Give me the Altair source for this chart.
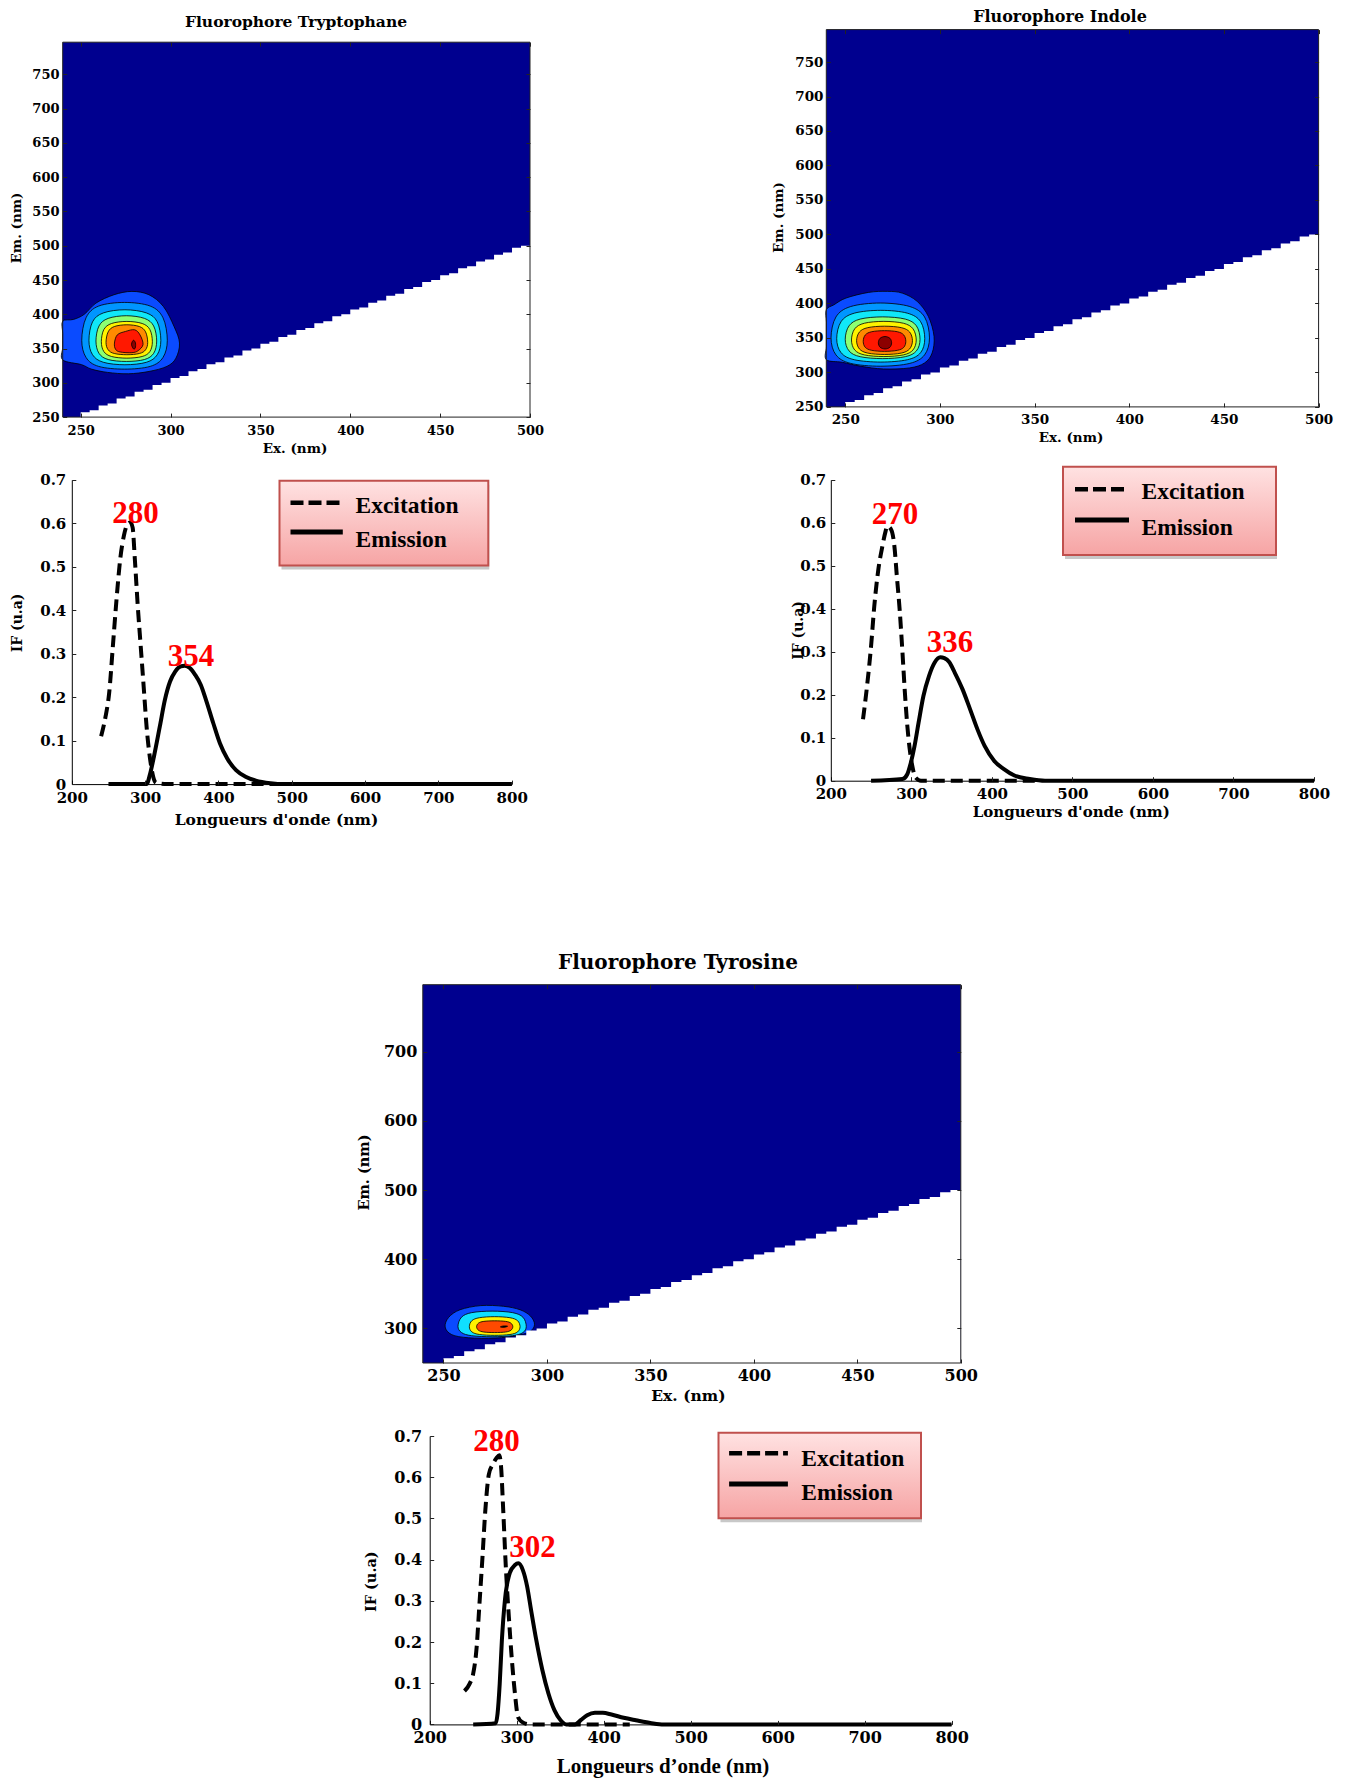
import altair as alt
import pandas as pd

# ---------------------------------------------------------------- data
# Spectra: excitation (dashed) and emission (solid), wavelength (nm) -> IF (u.a)
TRP_EX_WL = [240, 246, 251, 256, 261, 266, 271, 276, 280, 283, 286, 290, 294, 298, 302, 307, 311, 315, 330, 800]
TRP_EX_IF = [0.11, 0.155, 0.21, 0.317, 0.425, 0.517, 0.571, 0.598, 0.602, 0.59, 0.517, 0.409, 0.317, 0.225, 0.132, 0.055, 0.017, 0.003, 0, 0]
TRP_EM_WL = [250, 302, 307, 312, 320, 327, 334, 341, 349, 354, 361, 368, 376, 383, 393, 402, 412, 424, 437, 451, 471, 490, 800]
TRP_EM_IF = [0, 0, 0.025, 0.063, 0.132, 0.194, 0.236, 0.259, 0.271, 0.272, 0.267, 0.252, 0.228, 0.194, 0.14, 0.094, 0.059, 0.032, 0.017, 0.008, 0.002, 0, 0]

IND_EX_WL = [240, 245, 250, 254, 259, 264, 268, 270, 275, 279, 282, 285.5, 289, 292, 295, 298.5, 302, 305, 312, 460]
IND_EX_IF = [0.143, 0.22, 0.313, 0.406, 0.491, 0.545, 0.58, 0.592, 0.584, 0.545, 0.476, 0.398, 0.298, 0.205, 0.128, 0.066, 0.027, 0.008, 0, 0]
IND_EM_WL = [250, 289, 295, 299, 304, 309, 315, 322, 329, 336, 341, 347, 354, 363.5, 373, 382, 391, 403, 415, 428, 447, 466, 800]
IND_EM_IF = [0, 0.004, 0.015, 0.039, 0.081, 0.135, 0.197, 0.244, 0.275, 0.287, 0.285, 0.276, 0.251, 0.213, 0.166, 0.12, 0.081, 0.046, 0.027, 0.012, 0.004, 0, 0]

TYR_EX_WL = [240, 246, 250, 254, 257, 260.5, 264, 268, 272.5, 277, 280, 282, 284.5, 287.5, 291, 294.5, 298, 301.5, 306, 315, 430]
TYR_EX_IF = [0.081, 0.099, 0.123, 0.188, 0.286, 0.4, 0.521, 0.607, 0.631, 0.647, 0.653, 0.627, 0.521, 0.383, 0.261, 0.156, 0.075, 0.018, 0.006, 0, 0]
TYR_EM_WL = [250, 276, 278, 280.5, 283, 286.5, 292, 298, 302, 307, 312, 316.5, 322.5, 329.5, 336.5, 343.5, 350.5, 357, 367, 374, 381, 390, 399, 409, 423, 437, 455, 469, 800]
TYR_EM_IF = [0, 0.003, 0.026, 0.099, 0.205, 0.302, 0.367, 0.387, 0.391, 0.375, 0.335, 0.278, 0.205, 0.132, 0.075, 0.034, 0.01, 0, 0, 0.011, 0.022, 0.028, 0.028, 0.024, 0.016, 0.01, 0.003, 0, 0]

TRP_PEAKS = ["280", "354"]
IND_PEAKS = ["270", "336"]
TYR_PEAKS = ["280", "302"]

# EEM contour outlines, (Ex nm, Em nm), outermost first
TRP_L1 = [(240, 390), (240, 372), (240, 352), (240, 333.5), (250.5, 326.5), (256, 320), (265, 315.2), (276.5, 313.2),
          (288, 316.6), (298, 324), (303, 336), (305, 358), (302, 382), (296, 411.5), (288, 428.5), (278.5, 433.4),
          (268.5, 428.5), (258.5, 416.3), (252, 400), (246, 392.5)]
TRP_L2 = [(250.6, 362), (253, 395), (260, 412), (274.4, 417.3), (288.7, 412), (295.8, 395), (298.2, 362), (295.8, 337),
          (288.7, 324), (274.4, 320), (260, 324), (253, 337)]
TRP_L3 = [(254.6, 362), (256.6, 389), (262.6, 402), (274.6, 406.6), (286.6, 402), (292.6, 389), (294.6, 362), (292.6, 341),
          (286.6, 330), (274.6, 326.4), (262.6, 330), (256.6, 341)]
TRP_L4 = [(258.5, 361), (260.2, 383), (265.3, 394), (275.4, 397.9), (285.5, 394), (290.6, 383), (292.3, 361), (290.6, 343),
          (285.5, 334), (275.4, 331.2), (265.3, 334), (260.2, 343)]
TRP_L5 = [(261.5, 360), (262.9, 377.8), (267.2, 386.6), (275.7, 389.6), (284.2, 386.6), (288.5, 377.8), (289.9, 360),
          (288.5, 345.6), (284.2, 338.4), (275.7, 336), (267.2, 338.4), (262.9, 345.6)]
TRP_L6 = [(264.1, 359), (265.3, 374.4), (268.7, 382.1), (275.7, 384.7), (282.7, 382.1), (286.1, 374.4), (287.3, 359),
          (286.1, 348.2), (282.7, 342.8), (275.7, 341), (268.7, 342.8), (265.3, 348.2)]
TRP_L7 = [(268.8, 358), (270.4, 370), (275, 375), (280, 377.4), (283, 370), (284.7, 356), (282, 347), (278.5, 344),
          (272, 345), (269.4, 349)]
TRP_L8 = [(278.3, 355.5), (278.8, 360.5), (279.6, 362), (280.5, 358), (280.4, 351), (279.4, 349.5)]

IND_L1 = [(240, 391), (240, 373), (240, 355), (240, 337), (240, 318.5), (248.4, 314.7), (258.3, 308.9), (270.2, 305),
          (284, 306.5), (291.9, 313.7), (295.9, 328.2), (296.9, 352.3), (293.9, 381.3), (288, 403), (280.1, 415),
          (272.2, 417.5), (262.3, 416), (250.4, 407.8), (244, 398)]
IND_L2 = [(242.5, 350), (245.1, 380.4), (252.9, 395.5), (268.5, 400.6), (284.1, 395.5), (291.9, 380.4), (294.5, 350),
          (291.9, 325.4), (284.1, 313.1), (268.5, 309), (252.9, 313.1), (245.1, 325.4)]
IND_L3 = [(245.5, 349), (247.8, 373.6), (254.8, 385.9), (268.8, 390), (282.8, 385.9), (289.8, 373.6), (292, 349),
          (289.8, 328.6), (282.8, 318.4), (268.8, 315), (254.8, 318.4), (247.8, 328.6)]
IND_L4 = [(250, 348), (252, 367.5), (257.9, 377.3), (269.8, 380.5), (281.7, 377.3), (287.6, 367.5), (289.5, 348),
          (287.6, 331.2), (281.7, 322.8), (269.8, 320), (257.9, 322.8), (252, 331.2)]
IND_L5 = [(253.3, 347), (255, 363.2), (260.1, 371.3), (270.4, 374), (280.7, 371.3), (285.8, 363.2), (287.5, 347),
          (285.8, 332.6), (280.7, 325.4), (270.4, 323), (260.1, 325.4), (255, 332.6)]
IND_L6 = [(256, 346), (257.5, 358.6), (261.9, 364.9), (270.75, 367), (279.6, 364.9), (284, 358.6), (285.5, 346),
          (284, 334), (279.6, 328), (270.75, 326), (261.9, 328), (257.5, 334)]
IND_L7 = [(259.5, 345), (260.6, 354.3), (264, 359), (270.75, 360.5), (277.5, 359), (280.9, 354.3), (282, 345),
          (280.9, 336.3), (277.5, 332), (270.75, 330.5), (264, 332), (260.6, 336.3)]
IND_L8 = [(267.5, 343), (268.4, 349.5), (271, 352), (273.6, 349.5), (274.5, 343), (273.6, 336.5), (271, 334), (268.4, 336.5)]

TYR_L1 = [(250.8, 302), (252.5, 316), (258, 327), (268, 333), (279, 332), (287, 327), (292, 318), (294, 306), (292, 296),
          (286, 290), (275, 286), (262, 286.5), (254, 291)]
TYR_L2 = [(257, 303), (258.7, 316.2), (263.6, 322.8), (273.5, 325), (283.4, 322.8), (288.4, 316.2), (290, 303),
          (288.4, 294), (283.4, 289.5), (273.5, 288), (263.6, 289.5), (258.7, 294)]
TYR_L3 = [(262.5, 302.5), (263.7, 311.2), (267.4, 315.5), (274.75, 317), (282.1, 315.5), (285.8, 311.2), (287, 302.5),
          (285.8, 295), (282.1, 291.2), (274.75, 290), (267.4, 291.2), (263.7, 295)]
TYR_L4 = [(266, 302.5), (266.9, 307.6), (269.5, 310.2), (274.75, 311), (280, 310.2), (282.6, 307.6), (283.5, 302.5),
          (282.6, 297.4), (280, 294.8), (274.75, 294), (269.5, 294.8), (266.9, 297.4)]
TYR_L5 = [(277.5, 302.2), (279, 303.6), (281, 303.2), (279.3, 301.6)]

JET_COLORS = ["#0A4BFF", "#0096FF", "#10E8F8", "#8CFF73", "#FFF200", "#FF8A00", "#FF1800", "#8C0000"]
TYR_COLORS = ["#0A4BFF", "#10DFFF", "#FFF200", "#FF4A00", "#000000"]
NAVY = "#00008F"

# Masked (scatter) region below the diagonal: step boundary
MASK_EX = [250, 255, 260, 265, 270, 275, 280, 285, 290, 295, 300, 305, 310, 315, 320, 325, 330, 335, 340, 345,
           350, 355, 360, 365, 370, 375, 380, 385, 390, 395, 400, 405, 410, 415, 420, 425, 430, 435, 440, 445,
           450, 455, 460, 465, 470, 475, 480, 485, 490, 495, 500]
MASK_EM = [257, 260, 267, 270, 277, 280, 287, 290, 297, 300, 307, 310, 317, 320, 327, 330, 337, 340, 347, 350,
           357, 360, 367, 370, 377, 380, 387, 390, 397, 400, 407, 410, 417, 420, 427, 430, 437, 440, 447, 450,
           457, 460, 467, 470, 477, 480, 487, 490, 497, 500, 500]

EEM_X_TICKS = [250, 300, 350, 400, 450, 500]
EEM_Y_TICKS = [250, 300, 350, 400, 450, 500, 550, 600, 650, 700, 750]
TYR_Y_TICKS = [300, 400, 500, 600, 700]
SP_X_TICKS = [200, 300, 400, 500, 600, 700, 800]
SP_Y_TICKS = [0, 0.1, 0.2, 0.3, 0.4, 0.5, 0.6, 0.7]

# ---------------------------------------------------------------- helpers
W, H, M = 1330, 1771, 8
SERIF_W = "DejaVu Serif"
SERIF = "Liberation Serif"
ONE = pd.DataFrame({"k": [0]})


def P(v):
    return v - M


def pts_df(pts):
    return pd.DataFrame({"ex": [p[0] for p in pts], "em": [p[1] for p in pts], "i": list(range(len(pts)))})


def txt(s, x, y, size, font=SERIF_W, color="black", angle=0, align="center"):
    return alt.Chart(ONE).mark_text(text=s, font=font, fontSize=size, fontWeight="bold", color=color,
                                    angle=angle, align=align, baseline="middle").encode(
        x=alt.value(P(x)), y=alt.value(P(y)))


def rect(x0, y0, x1, y1, **kw):
    return alt.Chart(ONE).mark_rect(**kw).encode(
        x=alt.value(P(x0)), x2=alt.value(P(x1)), y=alt.value(P(y0)), y2=alt.value(P(y1)))


def hline(x0, x1, y, **kw):
    return alt.Chart(ONE).mark_rule(**kw).encode(x=alt.value(P(x0)), x2=alt.value(P(x1)), y=alt.value(P(y)))


def lab_axis(orient, offset, values, size, pad, domain=False, expr=None):
    kw = dict(orient=orient, offset=offset, values=values, ticks=False, tickSize=0, domain=domain, grid=False,
              title=None, labelFont=SERIF_W, labelFontWeight="bold", labelFontSize=size, labelColor="black",
              labelPadding=pad, labelFlush=False, labelOverlap=False, zindex=1)
    if domain:
        kw.update(domainColor="black", domainWidth=1)
    if expr:
        kw["labelExpr"] = expr
    if orient in ("top", "bottom"):
        kw["labelBaseline"] = "middle"
    return alt.Axis(**kw)


def tick_axis(orient, offset, values, size=4):
    return alt.Axis(orient=orient, offset=offset, values=values, labels=False, domain=False, ticks=True,
                    tickSize=size, tickWidth=1, tickColor="#222222", grid=False, title=None, zindex=1)


def eem(geom, contours, colors, yticks, fsize, pad_x, pad_y):
    x0, x1, yt, yb = [P(v) for v in geom]
    xs = alt.Scale(domain=[240, 500], range=[x0, x1], nice=False, zero=False)
    ys = alt.Scale(domain=[250, 797], range=[yb, yt], nice=False, zero=False)
    box = pd.DataFrame({"x": [240], "x2": [500], "y": [250], "y2": [797]})

    def boxenc(ch):
        return ch.encode(x=alt.X("x:Q", scale=xs, axis=None), x2="x2:Q",
                         y=alt.Y("y:Q", scale=ys, axis=None), y2="y2:Q")

    layers = [boxenc(alt.Chart(box).mark_rect(fill=NAVY, strokeWidth=0))]
    for pts, col in zip(contours, colors):
        layers.append(alt.Chart(pts_df(pts)).mark_line(
            interpolate="cardinal-closed", fill=col, stroke="black", strokeWidth=0.8).encode(
            x=alt.X("ex:Q", scale=xs, axis=None), y=alt.Y("em:Q", scale=ys, axis=None), order="i:Q"))
    mask = pd.DataFrame({"ex": MASK_EX, "em": MASK_EM, "base": [250] * len(MASK_EX)})
    layers.append(alt.Chart(mask).mark_area(interpolate="step-after", fill="white", opacity=1).encode(
        x=alt.X("ex:Q", scale=xs, axis=None), y=alt.Y("em:Q", scale=ys, axis=None), y2="base:Q"))
    layers.append(boxenc(alt.Chart(box).mark_rect(fillOpacity=0, stroke="#222222", strokeWidth=1)))

    carrier = pd.DataFrame({"a": [240], "b": [250]})

    def carry(ax, ay):
        return alt.Chart(carrier).mark_point(opacity=0).encode(
            x=alt.X("a:Q", scale=xs, axis=ax), y=alt.Y("b:Q", scale=ys, axis=ay))

    layers.append(carry(lab_axis("bottom", yb - H, EEM_X_TICKS, fsize, pad_x),
                        lab_axis("left", -x0, yticks, fsize, pad_y)))
    layers.append(carry(tick_axis("top", -yb, EEM_X_TICKS), tick_axis("right", x0 - W, yticks)))
    layers.append(carry(tick_axis("bottom", yt - H, EEM_X_TICKS), tick_axis("left", -x1, yticks)))
    return alt.layer(*layers)


def spectrum(geom, ex_wl, ex_if, em_wl, em_if, fsize, pad_x, pad_y):
    x0, x1, y0, yt = [P(v) for v in geom]
    xs = alt.Scale(domain=[200, 800], range=[x0, x1], nice=False, zero=False)
    ys = alt.Scale(domain=[0, 0.7], range=[y0, yt], nice=False, zero=False)
    ex = pd.DataFrame({"wl": ex_wl, "v": ex_if})
    em = pd.DataFrame({"wl": em_wl, "v": em_if})
    l_em = alt.Chart(em).mark_line(color="black", strokeWidth=4, interpolate="monotone").encode(
        x=alt.X("wl:Q", scale=xs, axis=None), y=alt.Y("v:Q", scale=ys, axis=None))
    l_ex = alt.Chart(ex).mark_line(color="black", strokeWidth=4, strokeDash=[12, 6], interpolate="monotone").encode(
        x=alt.X("wl:Q", scale=xs, axis=None), y=alt.Y("v:Q", scale=ys, axis=None))
    carrier = pd.DataFrame({"a": [200], "b": [0]})

    def carry(ax, ay):
        return alt.Chart(carrier).mark_point(opacity=0).encode(
            x=alt.X("a:Q", scale=xs, axis=ax), y=alt.Y("b:Q", scale=ys, axis=ay))

    expr = "datum.value == 0 ? '0' : format(datum.value, '.1f')"
    a = carry(lab_axis("bottom", y0 - H, SP_X_TICKS, fsize, pad_x, domain=True),
              lab_axis("left", -x0, SP_Y_TICKS, fsize, pad_y, domain=True, expr=expr))
    b = carry(tick_axis("top", -y0, SP_X_TICKS), tick_axis("right", x0 - W, SP_Y_TICKS))
    return alt.layer(l_em, l_ex, a, b)


def legend(box, line_x, dash_y, solid_y, text_x, ex_y, em_y):
    bx0, by0, bx1, by1 = box
    grad = alt.Gradient(gradient="linear", x1=0, x2=0, y1=0, y2=1,
                        stops=[alt.GradientStop(color="#FFE2E2", offset=0),
                               alt.GradientStop(color="#F6A4A4", offset=1)])
    return [
        rect(bx0 + 2, by0 + 4, bx1 + 1, by1 + 4, fill="#C8C8C8", strokeWidth=0),
        rect(bx0, by0, bx1, by1, fill=grad, stroke="#C0504D", strokeWidth=2),
        hline(line_x[0], line_x[1], dash_y, color="black", strokeWidth=4.5, strokeDash=[13, 5]),
        hline(line_x[0], line_x[1], solid_y, color="black", strokeWidth=5),
        txt("Excitation", text_x, ex_y, 23.5, font=SERIF, align="left"),
        txt("Emission", text_x, em_y, 23.5, font=SERIF, align="left"),
    ]


# ---------------------------------------------------------------- panels
layers = []

# Tryptophane
layers.append(eem((62.7, 530, 42.2, 417.1), [TRP_L1, TRP_L2, TRP_L3, TRP_L4, TRP_L5, TRP_L6, TRP_L7, TRP_L8],
                  JET_COLORS, EEM_Y_TICKS, 13, 12.9, 3.7))
layers += [txt("Fluorophore Tryptophane", 296, 22, 15.5),
           txt("Ex. (nm)", 295, 449, 13.5),
           txt("Em. (nm)", 17, 228, 13.5, angle=270)]
layers.append(spectrum((71.8, 511.7, 784.1, 479.8), TRP_EX_WL, TRP_EX_IF, TRP_EM_WL, TRP_EM_IF, 15, 13, 6))
layers += [txt("Longueurs d'onde (nm)", 276.5, 820.3, 15.5),
           txt("IF (u.a)", 18, 623, 14, angle=270)]
layers += legend((279.5, 480.8, 488.3, 565.6), (290.5, 342.8), 502.7, 532, 355.5, 505.5, 539.5)
layers += [txt(TRP_PEAKS[0], 135.5, 513.5, 31, font=SERIF, color="#FF0000"),
           txt(TRP_PEAKS[1], 191, 656.5, 31, font=SERIF, color="#FF0000")]

# Indole
layers.append(eem((826.3, 1318.6, 29.6, 406.9), [IND_L1, IND_L2, IND_L3, IND_L4, IND_L5, IND_L6, IND_L7, IND_L8],
                  JET_COLORS, EEM_Y_TICKS, 13.5, 12.4, 3.3))
layers += [txt("Fluorophore Indole", 1060, 17, 16),
           txt("Ex. (nm)", 1071, 437.5, 13.5),
           txt("Em. (nm)", 778.6, 217.5, 13.5, angle=270)]
layers.append(spectrum((830.8, 1314, 780.7, 479.8), IND_EX_WL, IND_EX_IF, IND_EM_WL, IND_EM_IF, 15, 12.6, 5))
layers += [txt("Longueurs d'onde (nm)", 1071.3, 811.7, 15),
           txt("IF (u.a)", 799.4, 630.5, 14, angle=270)]
layers += legend((1063, 466.7, 1276, 555), (1075, 1129), 489.3, 520, 1141.5, 492.3, 528)
layers += [txt(IND_PEAKS[0], 895, 515, 31, font=SERIF, color="#FF0000"),
           txt(IND_PEAKS[1], 950, 643, 31, font=SERIF, color="#FF0000")]

# Tyrosine
layers.append(eem((422.8, 960.8, 984.7, 1363), [TYR_L1, TYR_L2, TYR_L3, TYR_L4, TYR_L5],
                  TYR_COLORS, TYR_Y_TICKS, 16, 12.6, 6))
layers += [txt("Fluorophore Tyrosine", 678, 962.5, 20),
           txt("Ex. (nm)", 688.4, 1396, 15.5),
           txt("Em. (nm)", 364.5, 1172.5, 14.5, angle=270)]
layers.append(spectrum((429.7, 951.6, 1724.4, 1436), TYR_EX_WL, TYR_EX_IF, TYR_EM_WL, TYR_EM_IF, 16, 12.9, 8))
layers += [txt("Longueurs d\u2019onde (nm)", 663, 1766.5, 21, font=SERIF),
           txt("IF (u.a)", 371.5, 1581.7, 14.5, angle=270)]
layers += legend((718.5, 1432.7, 921, 1518.3), (729.1, 787.9), 1453.3, 1484, 801.3, 1459.3, 1493.3)
layers += [txt(TYR_PEAKS[0], 496.5, 1441.7, 31, font=SERIF, color="#FF0000"),
           txt(TYR_PEAKS[1], 532.5, 1548.3, 31, font=SERIF, color="#FF0000")]

chart = alt.layer(*layers).resolve_scale(x="independent", y="independent").properties(
    width=W, height=H, autosize=alt.AutoSizeParams(type="none"), padding=0
).configure_view(stroke=None)

chart.save("out.html", embed_options={"renderer": "svg", "actions": False})
